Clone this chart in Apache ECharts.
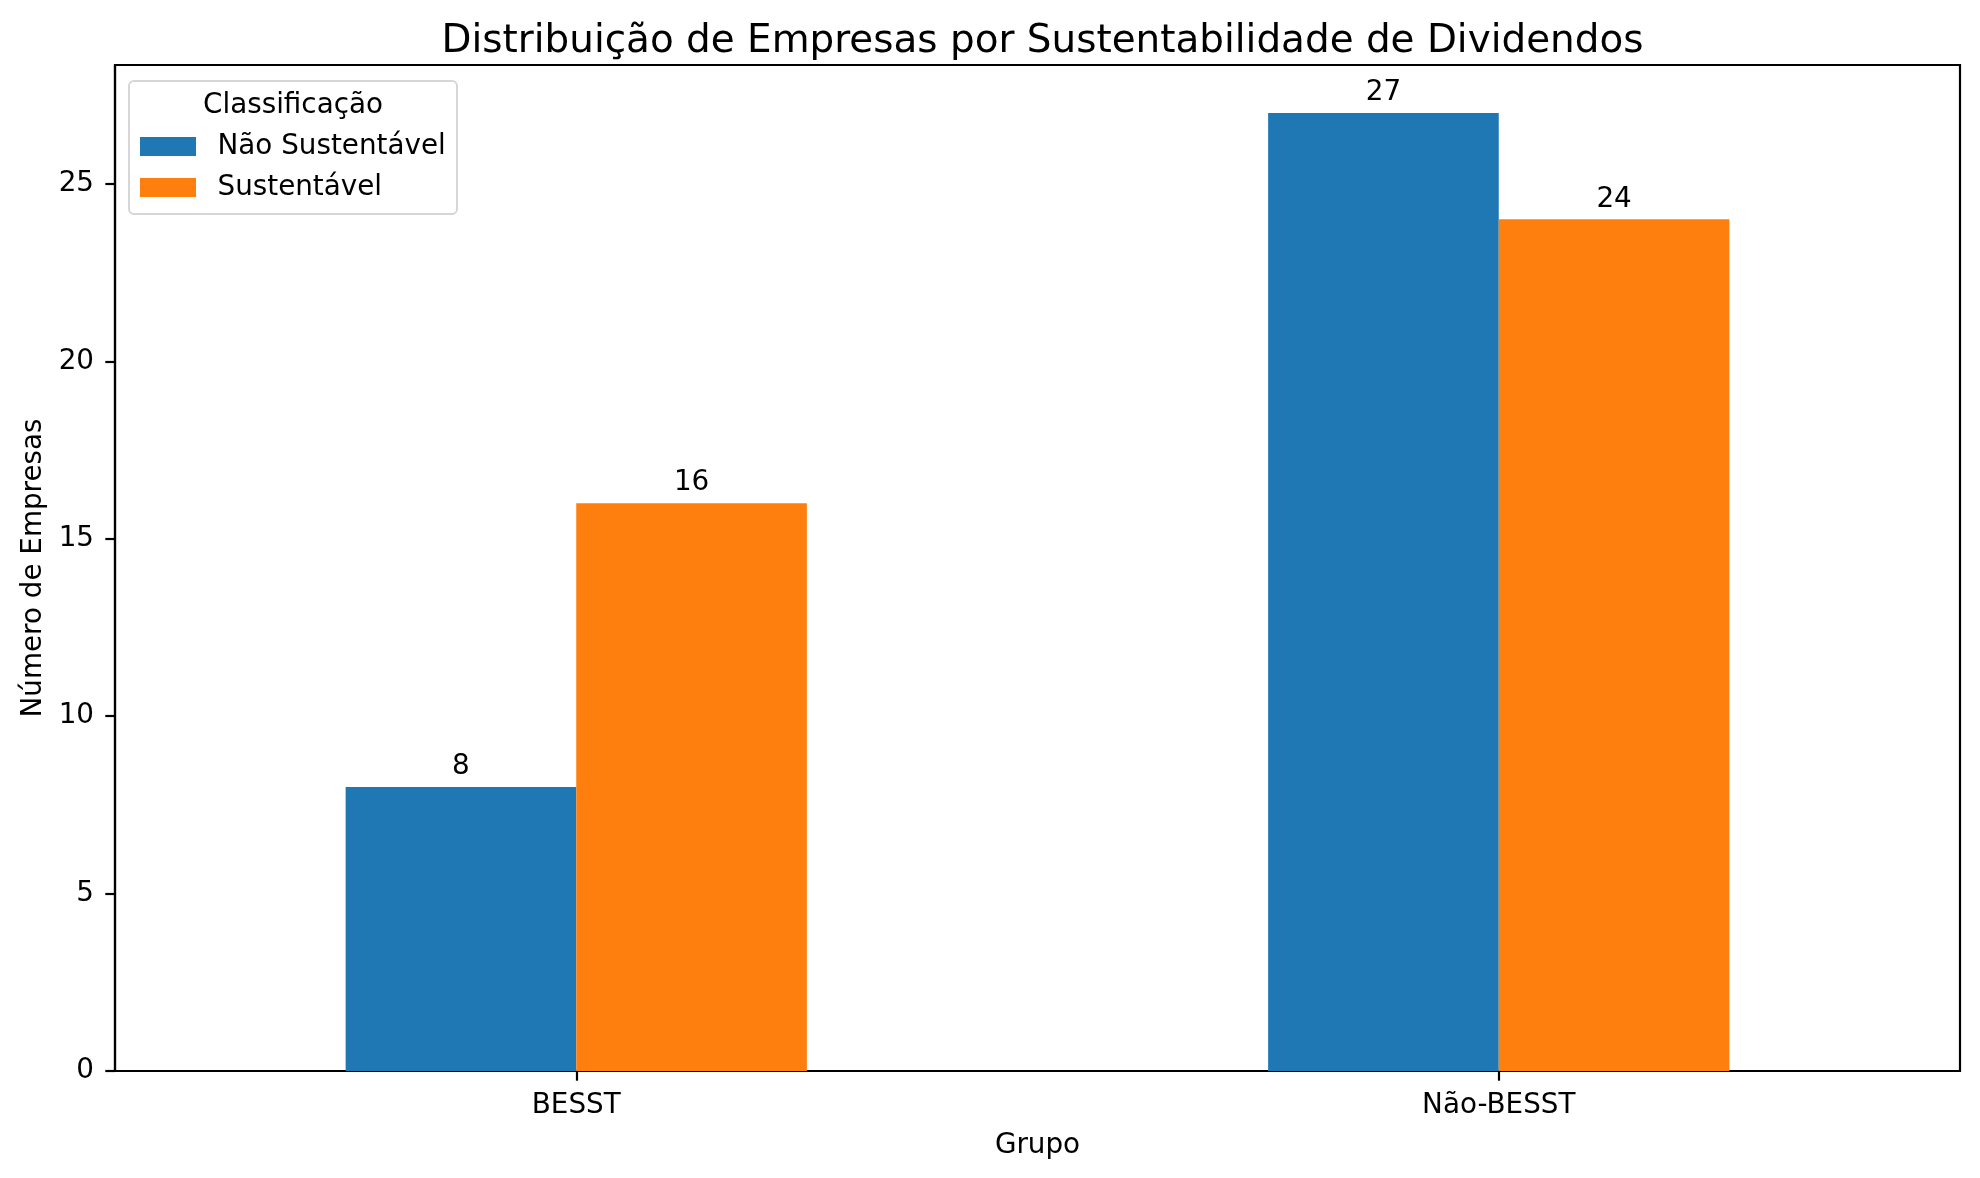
<!DOCTYPE html>
<html>
<head>
<meta charset="utf-8">
<script src="https://cdn.jsdelivr.net/npm/echarts@6/dist/echarts.min.js"></script>
<style>
html, body { margin: 0; padding: 0; background: #ffffff; }
#chart { width: 1980px; height: 1178px; }
</style>
</head>
<body>
<div id="chart"></div>
<script>
const categories = ['BESST', 'Não-BESST'];
const seriesNames = ['Não Sustentável', 'Sustentável'];
const naoSustentavel = [8, 27];
const sustentavel = [16, 24];
const yTicks = [0, 5, 10, 15, 20, 25];
const chartTitle = 'Distribuição de Empresas por Sustentabilidade de Dividendos';
const legendTitle = 'Classificação';
const xName = 'Grupo';
const yName = 'Número de Empresas';

const FONT = 'DejaVu Sans';
const gridL = 115, gridR = 20, gridT = 65, gridB = 107;
const plotCenterX = gridL + (1980 - gridL - gridR) / 2;
const yMax = Math.max(...naoSustentavel, ...sustentavel) * 1.05;

const chart = echarts.init(document.getElementById('chart'), null, { renderer: 'canvas' });

const labelCfg = {
  show: true,
  position: 'top',
  distance: 6,
  color: '#000',
  fontFamily: FONT,
  fontSize: 27.8
};

chart.setOption({
  animation: false,
  backgroundColor: '#ffffff',
  textStyle: { fontFamily: FONT },
  title: {
    text: chartTitle,
    left: plotCenterX,
    textAlign: 'center',
    top: 17,
    textStyle: { fontFamily: FONT, fontSize: 38.9, fontWeight: 'normal', color: '#000' }
  },
  grid: {
    left: gridL, right: gridR, top: gridT, bottom: gridB,
    show: true, borderColor: '#000', borderWidth: 2.2, backgroundColor: 'transparent'
  },
  legend: {
    orient: 'vertical',
    left: 140,
    top: 132.5,
    padding: 0,
    itemWidth: 56,
    itemHeight: 19,
    itemGap: 13,
    icon: 'rect',
    data: seriesNames,
    textStyle: { fontFamily: FONT, fontSize: 27.8, color: '#000', padding: [0, 0, 0, 16.5] }
  },
  graphic: [
    {
      type: 'rect',
      z: -1,
      shape: { x: 129, y: 81, width: 328, height: 133, r: 5 },
      style: { fill: 'rgba(255,255,255,0.8)', stroke: '#d6d6d6', lineWidth: 2 }
    },
    {
      type: 'text',
      z: 10,
      x: 293,
      y: 106,
      style: {
        text: legendTitle, fontFamily: FONT, fontSize: 27.8, fill: '#000',
        textAlign: 'center', textVerticalAlign: 'middle'
      }
    }
  ],
  xAxis: {
    type: 'category',
    data: categories,
    boundaryGap: true,
    name: xName,
    nameLocation: 'middle',
    nameGap: 61,
    nameTextStyle: { fontFamily: FONT, fontSize: 27.8, color: '#000' },
    axisLine: { show: true, lineStyle: { color: '#000', width: 2.2 } },
    axisTick: { show: true, alignWithLabel: true, length: 9.7, lineStyle: { color: '#000', width: 2.2 } },
    axisLabel: { margin: 21, fontFamily: FONT, fontSize: 27.8, color: '#000' },
    splitLine: { show: false }
  },
  yAxis: {
    type: 'value',
    min: 0,
    max: yMax,
    interval: 5,
    name: yName,
    nameLocation: 'middle',
    nameGap: 60,
    nameTextStyle: { fontFamily: FONT, fontSize: 27.8, color: '#000' },
    axisLine: { show: true, lineStyle: { color: '#000', width: 2.2 } },
    axisTick: { show: true, length: 9.7, customValues: yTicks, lineStyle: { color: '#000', width: 2.2 } },
    axisLabel: { margin: 21, fontFamily: FONT, fontSize: 27.8, color: '#000', customValues: yTicks },
    splitLine: { show: false }
  },
  series: [
    {
      name: seriesNames[0],
      type: 'bar',
      data: naoSustentavel,
      barWidth: '25%',
      barGap: '0%',
      itemStyle: { color: '#1f77b4' },
      label: labelCfg
    },
    {
      name: seriesNames[1],
      type: 'bar',
      data: sustentavel,
      barWidth: '25%',
      barGap: '0%',
      itemStyle: { color: '#ff7f0e' },
      label: labelCfg
    }
  ]
});
</script>
</body>
</html>
